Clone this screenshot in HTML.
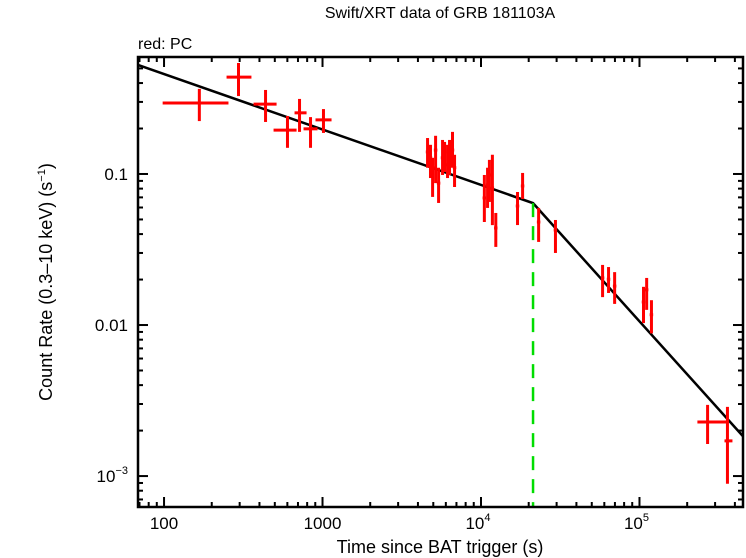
<!DOCTYPE html>
<html><head><meta charset="utf-8"><style>
body{margin:0;background:#fff;}
svg{display:block;font-family:"Liberation Sans",sans-serif;}
</style></head><body>
<svg id="chart" width="746" height="558" viewBox="0 0 746 558" xmlns="http://www.w3.org/2000/svg">
<text x="440" y="18" font-size="16" text-anchor="middle">Swift/XRT data of GRB 181103A</text>
<text x="138" y="49" font-size="16">red: PC</text>
<text x="440" y="553" font-size="18" text-anchor="middle">Time since BAT trigger (s)</text>
<text transform="translate(52,282) rotate(-90)" font-size="18" text-anchor="middle">Count Rate (0.3–10 keV) (s<tspan dy="-7" font-size="11">−1</tspan><tspan dy="7">)</tspan></text>
<g id="ticks"></g>
<g id="model"></g>
<g id="points"></g>
<rect x="138" y="57" width="605" height="450" fill="none" stroke="#000" stroke-width="2.5"/>
</svg>
<script>
const times=[167,295,437,601,716,840,1014,4600,4800,4950,5170,5400,5720,5890,6150,6330,6610,6810,10500,11000,11300,11800,12400,17000,18300,23100,29500,58500,63800,69700,106000,111000,119000,269000,359000];
const timeLo=[98,248,367,491,666,759,903];
const timeHi=[255,356,513,686,793,930,1140];
const rates=[0.295,0.438,0.290,0.195,0.254,0.199,0.228,0.140,0.128,0.110,0.144,0.087,0.128,0.140,0.115,0.134,0.144,0.110,0.0694,0.0846,0.0985,0.0807,0.0439,0.0614,0.0833,0.0481,0.0426,0.0205,0.0201,0.0181,0.0142,0.0171,0.0117,0.00228,0.00171];
const rateHi=[0.366,0.543,0.360,0.242,0.314,0.238,0.269,0.173,0.156,0.128,0.179,0.110,0.168,0.163,0.156,0.168,0.190,0.134,0.0985,0.110,0.124,0.134,0.0552,0.076,0.1016,0.0596,0.0496,0.025,0.0242,0.0224,0.0179,0.0205,0.0146,0.00296,0.00287];
const rateLo=[0.224,0.328,0.221,0.149,0.190,0.149,0.187,0.110,0.094,0.0705,0.087,0.0643,0.0985,0.103,0.094,0.0985,0.110,0.082,0.0481,0.0596,0.0653,0.0459,0.0329,0.0459,0.0683,0.0355,0.030,0.0153,0.0163,0.0138,0.0103,0.0126,0.0088,0.00163,0.00089];
const lateTimeLo=[232000,344000];
const lateTimeHi=[354000,386000];
const modelNormT=68.5, modelNormR=0.527, breakT=21300, slope1=-0.367, slope2=-1.165, modelEndT=450000;
const xTickLabels=["100","1000","10","10"];
const xTickExp=["","","4","5"];
const xTickVals=[100,1000,1e4,1e5];
const yTickVals=[0.1,0.01,0.001];

const L=138,R=743,T=57,B=507;
const lx0=Math.log10(68.5), lx1=Math.log10(450000);
const ly0=Math.log10(0.595), ly1=Math.log10(0.000624);
const X=t=>L+(Math.log10(t)-lx0)/(lx1-lx0)*(R-L);
const Y=r=>T+(Math.log10(r)-ly0)/(ly1-ly0)*(B-T);
const NS="http://www.w3.org/2000/svg";
function mk(tag,attrs,parent){const e=document.createElementNS(NS,tag);for(const k in attrs)e.setAttribute(k,attrs[k]);parent.appendChild(e);return e;}
const tg=document.getElementById('ticks');
for(let d=1;d<=5;d++){for(let m=1;m<=9;m++){const t=m*Math.pow(10,d);if(t<68.5||t>450000)continue;const x=X(t);const len=m===1?10:5;
const a=mk('line',{x1:x,y1:B,x2:x,y2:B-len,stroke:'#000','stroke-width':2},tg);


const b=mk('line',{x1:x,y1:T,x2:x,y2:T+len,stroke:'#000','stroke-width':2},tg);

}}
xTickVals.forEach((v,i)=>{const el=mk('text',{x:X(v)+(xTickExp[i]?-3:0),y:529,'font-size':17,'text-anchor':'middle'},tg);


el.appendChild(document.createTextNode(xTickLabels[i]));
if(xTickExp[i]){const s=mk('tspan',{dy:-8,'font-size':11},el);s.textContent=xTickExp[i];}});
for(let d=-4;d<=0;d++){for(let m=1;m<=9;m++){const r=m*Math.pow(10,d);if(r<0.000624||r>0.595)continue;const y=Y(r);const len=m===1?10:5;
const a=mk('line',{x1:L,y1:y,x2:L+len,y2:y,stroke:'#000','stroke-width':2},tg);


const b=mk('line',{x1:R,y1:y,x2:R-len,y2:y,stroke:'#000','stroke-width':2},tg);

}}
yTickVals.forEach(v=>{const el=mk('text',{x:128,y:Y(v)+6,'font-size':17,'text-anchor':'end'},tg);


if(v===0.001){el.textContent='10';const s=mk('tspan',{dy:-8,'font-size':11},el);s.textContent='−3';}else el.textContent=String(v);});
const mg=document.getElementById('model');
const breakR=modelNormR*Math.pow(breakT/modelNormT,slope1);
const endR=breakR*Math.pow(modelEndT/breakT,slope2);
const ml=mk('polyline',{points:`${X(modelNormT)},${Y(modelNormR)} ${X(breakT)},${Y(breakR)} ${X(modelEndT)},${Y(endR)}`,fill:'none',stroke:'#000','stroke-width':2.5},mg);


const bl=mk('line',{x1:X(breakT),y1:Y(breakR),x2:X(breakT),y2:B,stroke:'#00dd00','stroke-width':2.5,'stroke-dasharray':'14,9'},mg);


const pg=document.getElementById('points');
times.forEach((t,i)=>{let lo,hi;
if(i<timeLo.length){lo=timeLo[i];hi=timeHi[i];}
else if(i>=times.length-2){lo=lateTimeLo[i-(times.length-2)];hi=lateTimeHi[i-(times.length-2)];}
else{lo=t*0.975;hi=t*1.025;}
const g=mk('g',{},pg);


mk('line',{x1:X(lo),y1:Y(rates[i]),x2:X(hi),y2:Y(rates[i]),stroke:'#f00','stroke-width':3},g);
mk('line',{x1:X(t),y1:Y(rateHi[i]),x2:X(t),y2:Y(rateLo[i]),stroke:'#f00','stroke-width':3},g);
});
</script>
</body></html>
